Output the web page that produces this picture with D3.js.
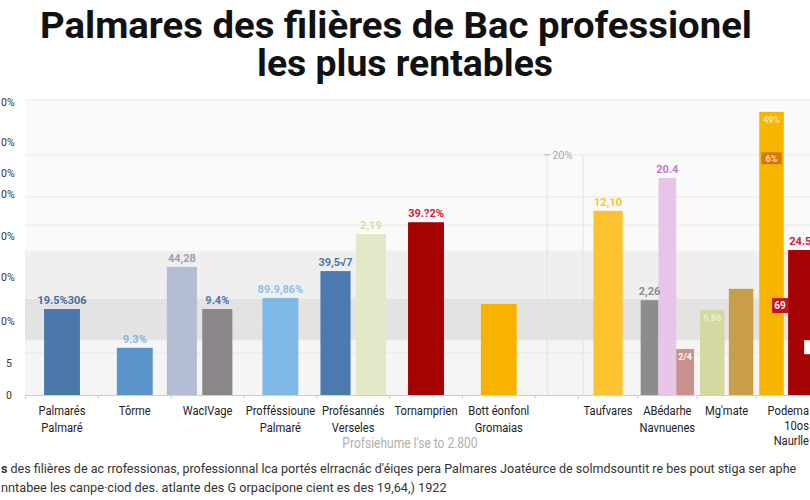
<!DOCTYPE html>
<html><head><meta charset="utf-8">
<script src="https://cdn.jsdelivr.net/npm/d3@7"></script>
<style>
html,body{margin:0;padding:0;background:#fff;overflow:hidden}
svg{display:block;font-family:Roboto,"Liberation Sans",sans-serif}
</style></head>
<body><svg id="c" width="810" height="500"></svg>
<script>
// ---------- DATA ----------
const titleLines = ["Palmares des filières de Bac professionel", "les plus rentables"];
const categoriesLeft = ["Palmarés|Palmaré", "Tôrme", "WacIVage", "Profféssioune|Palmaré", "Profésannés|Verseles", "Tornamprien", "Bott éonfonl|Gromaias"];
const categoriesRight = ["Taufvares", "ABédarhe|Navnuenes", "Mg'mate", "Podema|10os|Naurlle"];
const barCategory = [0, 1, 2, 2, 3, 4, 4, 5, 6, 7, 8, 8, 8, 9, 9, 10, 10];
const barValues   = [20.4, 11.2, 30.4, 20.4, 23.0, 29.4, 38.2, 41.0, 21.6, 43.7, 22.5, 51.5, 10.9, 20.2, 25.2, 67.2, 34.4];
const barLabels   = ["19.5%306", "9.3%", "44,28", "9.4%", "89.9,86%", "39,5\u221a7", "2,19", "39.?2%", "", "12,10", "2,26", "20.4", "", "", "", "", "24.5"];
const innerLabels = ["", "", "", "", "", "", "", "", "", "", "", "", "2/4", "6,86", "", "49%", ""];
const yTickValues = [0, 7.6, 17.6, 28.0, 37.7, 47.7, 52.7, 60.0, 69.5];
const yTickLabels = ["0", "5", "0%", "0%", "0%", "0%", "0%", "0%", "0%"];
const gridValues  = [70, 57, 47, 40.3, 27.3, 17.1, 10];
const separatorLabel = "20%";
const separatorValue = 57;
const axisSubtitle = "Profsiehume l'se to 2.800";
const footerLines = [
  "des filières de ac rrofessionas, professionnal lca portés elrracnác d'éiqes pera Palmares Joatéurce de solmdsountit re bes pout stiga ser aphe",
  "nntabee les canpe·ciod des. atlante des G orpacipone cient es des 19,64,) 1922"
];

// ---------- STYLE ----------
const barColors = ["#4a78ab", "#5b94c9", "#b4bdd4", "#8b8787", "#7db9e4", "#4a7aae", "#e4e8c9", "#a50202", "#f8b300",
                   "#fcc22f", "#8d8b8b", "#e7c5e6", "#c8918d", "#d4d9a1", "#c89e4b", "#f7b500", "#a50303"];
const labelColors = ["#3f6fa6", "#86b4de", "#9a9fb0", "#4a78ab", "#8ec0e5", "#4a78ab", "#d5dd9c", "#d0213b", "#f8b300",
                     "#fbc02d", "#8d8b8b", "#c678cf", "#ffffff", "#eef0c8", "#fff", "#ffe6a0", "#d0203a"];
const narrow = 0.86;

const svg = d3.select("#c");
const W = 810, H = 500;
const plotLeft = 25, plotTop = 100, baseY = 395;

const y = d3.scaleLinear().domain([0, 70]).range([baseY, plotTop]);
const xLeft = d3.scaleBand().domain(d3.range(categoriesLeft.length)).range([25.6, 535.2]);
const xRight = d3.scaleBand().domain(d3.range(categoriesLeft.length, categoriesLeft.length + categoriesRight.length)).range([578.4, 815.6]);
const categories = categoriesLeft.concat(categoriesRight);
const xFor = c => c < categoriesLeft.length ? xLeft : xRight;

// background
svg.append("rect").attr("x", plotLeft).attr("y", y(70)).attr("width", W - plotLeft).attr("height", baseY - y(70)).attr("fill", "#fafafa");
svg.append("rect").attr("x", plotLeft).attr("y", y(13)).attr("width", W - plotLeft).attr("height", y(0) - y(13)).attr("fill", "#f5f5f5");
svg.append("rect").attr("x", plotLeft).attr("y", y(34.2)).attr("width", W - plotLeft).attr("height", y(22.8) - y(34.2)).attr("fill", "#efefef");
svg.append("rect").attr("x", plotLeft).attr("y", y(22.8)).attr("width", W - plotLeft).attr("height", y(13) - y(22.8)).attr("fill", "#e3e3e3");

svg.append("g").selectAll("line").data(gridValues).join("line")
  .attr("x1", plotLeft).attr("x2", W).attr("y1", d => y(d)).attr("y2", d => y(d))
  .attr("stroke", "#e8e8e8").attr("stroke-width", 1);

// separator between panels
const sepA = xLeft.range()[1] + 12, sepB = xRight.range()[0] + 4.6;
svg.append("g").selectAll("line").data([sepA, sepB]).join("line")
  .attr("x1", d => d).attr("x2", d => d).attr("y1", y(separatorValue)).attr("y2", baseY)
  .attr("stroke", "#e2e2e2").attr("stroke-width", 1);
svg.append("line").attr("x1", sepA - 3).attr("x2", sepA + 3).attr("y1", y(separatorValue)).attr("y2", y(separatorValue)).attr("stroke", "#bbb");
svg.append("text").attr("x", sepA + 5).attr("y", y(separatorValue) + 4).text(separatorLabel)
  .attr("font-size", 11).attr("fill", "#aaa");

// y axis labels
svg.append("g").selectAll("text").data(yTickValues).join("text")
  .attr("x", 1).attr("y", d => y(d) + 4).attr("text-anchor", "start")
  .attr("font-size", 10.5).attr("fill", "#333").text((d, i) => yTickLabels[i])
  .attr("dx", (d, i) => yTickLabels[i].length === 1 ? 5 : 0);

// x axis
svg.append("line").attr("x1", plotLeft).attr("x2", W).attr("y1", baseY + 0.5).attr("y2", baseY + 0.5).attr("stroke", "#cfcfcf");
const bounds = xLeft.domain().map(d => xLeft(d)).concat([xLeft.range()[1]], xRight.domain().map(d => xRight(d)));
svg.append("g").selectAll("line").data(bounds).join("line")
  .attr("x1", d => d).attr("x2", d => d).attr("y1", baseY).attr("y2", baseY + 4).attr("stroke", "#ccc");

// bars
const bars = barValues.map((v, i) => ({i, v, c: barCategory[i]}));
const groups = d3.group(bars, d => d.c);
groups.forEach((list, c) => {
  const xs = xFor(c);
  const step = xs.bandwidth();
  const center = xs(c) + step / 2 - (c === 2 ? 8 : 0);
  const span = list.length === 1 ? step * 0.58 : step * 0.9;
  const inner = d3.scaleBand().domain(list.map(d => d.i)).range([center - span / 2, center + span / 2])
    .paddingInner(list.length === 3 ? 0 : 0.15);
  list.forEach(d => { d.x = inner(d.i); d.w = inner.bandwidth(); });
});

svg.append("g").selectAll("rect").data(bars).join("rect")
  .attr("x", d => d.x).attr("y", d => y(d.v)).attr("width", d => d.w).attr("height", d => baseY - y(d.v))
  .attr("fill", d => barColors[d.i]);

svg.append("g").selectAll("text").data(bars.filter(d => barLabels[d.i])).join("text")
  .attr("x", d => d.x + d.w / 2).attr("y", d => y(d.v) - 5).attr("text-anchor", "middle")
  .attr("font-size", 11).attr("font-weight", "bold").attr("fill", d => labelColors[d.i])
  .text(d => barLabels[d.i]);

svg.append("g").selectAll("text").data(bars.filter(d => innerLabels[d.i])).join("text")
  .attr("x", d => d.x + d.w / 2).attr("y", d => y(d.v) + 11).attr("text-anchor", "middle")
  .attr("font-size", 9).attr("font-weight", "bold").attr("fill", d => labelColors[d.i])
  .text(d => innerLabels[d.i]);

// badge annotations on the last group
const b16 = bars[15], b17 = bars[16];
svg.append("rect").attr("x", b16.x + 2).attr("y", y(57.6)).attr("width", b16.w - 4).attr("height", 12).attr("fill", "#d9780a");
svg.append("text").attr("x", b16.x + b16.w / 2).attr("y", y(57.6) + 9.5).attr("text-anchor", "middle")
  .attr("font-size", 9).attr("font-weight", "bold").attr("fill", "#ffe2b0").text("6%");
svg.append("rect").attr("x", b17.x - 16).attr("y", y(23)).attr("width", 16).attr("height", 15).attr("fill", "#c8121c");
svg.append("text").attr("x", b17.x - 8).attr("y", y(23) + 11).attr("text-anchor", "middle")
  .attr("font-size", 10).attr("font-weight", "bold").attr("fill", "#fff").text("69");
svg.append("rect").attr("x", b17.x + 16).attr("y", y(13)).attr("width", 8).attr("height", 14).attr("fill", "#fff");

// category labels (horizontally condensed)
const catG = svg.append("g").attr("transform", `scale(${narrow},1)`);
catG.selectAll("text").data(categories).join("text")
  .attr("font-size", 13).attr("fill", "#222")
  .each(function(d, i) {
    const xs = xFor(i);
    const last = i === categories.length - 1;
    const cx = last ? 809 : xs(i) + xs.bandwidth() / 2;
    const parts = d.split("|");
    d3.select(this).attr("text-anchor", last ? "end" : "middle")
      .selectAll("tspan").data(parts).join("tspan")
      .attr("x", cx / narrow).attr("y", (t, k) => 415 + k * (parts.length > 2 ? 15 : 17.5)).text(t => t);
  });

svg.append("g").attr("transform", `scale(${narrow},1)`).append("text")
  .attr("x", 410 / narrow).attr("y", 448).attr("text-anchor", "middle")
  .attr("font-size", 14).attr("fill", "#b0b0b0").text(axisSubtitle);

// title
svg.append("text").attr("x", 396).attr("y", 38).attr("text-anchor", "middle")
  .attr("font-size", 36).attr("font-weight", "bold").attr("fill", "#111")
  .attr("textLength", 712).attr("lengthAdjust", "spacingAndGlyphs").text(titleLines[0]);
svg.append("text").attr("x", 405).attr("y", 76).attr("text-anchor", "middle")
  .attr("font-size", 36).attr("font-weight", "bold").attr("fill", "#111")
  .attr("textLength", 296).attr("lengthAdjust", "spacingAndGlyphs").text(titleLines[1]);

// footer (fitted by horizontal scaling)
function fitLine(yPos, targetW, build) {
  const g = svg.append("g");
  const t = g.append("text").attr("x", 0).attr("y", yPos).attr("font-size", 13.5).attr("fill", "#333");
  build(t);
  const natural = t.node().getComputedTextLength();
  g.attr("transform", `translate(1,0) scale(${targetW / natural},1)`);
}
fitLine(473, 796, t => {
  t.append("tspan").attr("font-weight", "bold").text("s ");
  t.append("tspan").text(footerLines[0]);
});
fitLine(492, 446, t => t.text(footerLines[1]));
</script></body></html>
